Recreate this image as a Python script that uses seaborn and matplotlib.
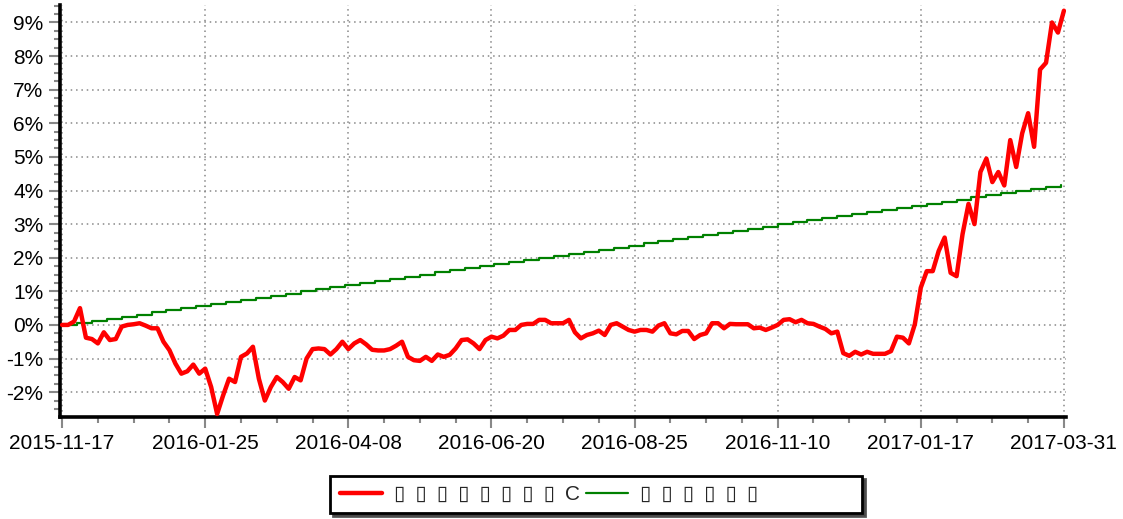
import numpy as np
import matplotlib
matplotlib.use("Agg")
import matplotlib.pyplot as plt
from matplotlib.ticker import FixedLocator, MultipleLocator, FuncFormatter
import seaborn as sns

# trading-day labels shown on the x axis (one every 48 trading days)
tick_days = [0, 48, 96, 144, 192, 240, 288, 336]
tick_labels = ['2015-11-17', '2016-01-25', '2016-04-08', '2016-06-20',
               '2016-08-25', '2016-11-10', '2017-01-17', '2017-03-31']

# fund cumulative return (%), read every 2 trading days
fund_ret = [
    0.00, 0.00, 0.10, 0.50, -0.38, -0.42, -0.55, -0.22, -0.45, -0.42,
    -0.05, 0.00, 0.02, 0.05, -0.02, -0.10, -0.10, -0.50, -0.75, -1.15,
    -1.45, -1.38, -1.18, -1.45, -1.30, -1.85, -2.65, -2.10, -1.60, -1.70,
    -0.95, -0.85, -0.65, -1.60, -2.25, -1.85, -1.55, -1.70, -1.90, -1.55,
    -1.65, -1.00, -0.72, -0.70, -0.72, -0.88, -0.72, -0.50, -0.72, -0.55,
    -0.45, -0.58, -0.74, -0.76, -0.76, -0.72, -0.62, -0.50, -0.95, -1.05,
    -1.07, -0.95, -1.07, -0.88, -0.95, -0.89, -0.70, -0.45, -0.43, -0.55,
    -0.72, -0.45, -0.35, -0.40, -0.32, -0.15, -0.15, 0.00, 0.03, 0.03,
    0.15, 0.15, 0.05, 0.05, 0.05, 0.15, -0.22, -0.40, -0.30, -0.25,
    -0.17, -0.30, 0.00, 0.05, -0.05, -0.15, -0.20, -0.15, -0.15, -0.20,
    -0.02, 0.05, -0.25, -0.28, -0.18, -0.18, -0.42, -0.30, -0.25, 0.05,
    0.05, -0.10, 0.03, 0.02, 0.02, 0.02, -0.10, -0.08, -0.15, -0.08,
    0.00, 0.15, 0.17, 0.08, 0.15, 0.05, 0.03, -0.05, -0.12, -0.25,
    -0.20, -0.84, -0.92, -0.80, -0.88, -0.80, -0.86, -0.86, -0.86, -0.78,
    -0.35, -0.38, -0.55, 0.02, 1.11, 1.60, 1.60, 2.20, 2.60, 1.55,
    1.45, 2.70, 3.60, 3.00, 4.55, 4.95, 4.25, 4.55, 4.15, 5.50,
    4.70, 5.70, 6.30, 5.30, 7.60, 7.80, 9.00, 8.70, 9.35,
]

# benchmark cumulative return (%), read once per week (every 5 trading days)
bench_ret = [
    0.00, 0.06, 0.12, 0.19, 0.25, 0.31, 0.37, 0.44, 0.50, 0.56,
    0.62, 0.68, 0.75, 0.81, 0.87, 0.93, 1.00, 1.06, 1.12, 1.18,
    1.24, 1.31, 1.37, 1.43, 1.49, 1.56, 1.62, 1.68, 1.74, 1.80,
    1.87, 1.93, 1.99, 2.05, 2.12, 2.18, 2.24, 2.30, 2.36, 2.43,
    2.49, 2.55, 2.61, 2.68, 2.74, 2.80, 2.86, 2.92, 2.99, 3.05,
    3.11, 3.17, 3.24, 3.30, 3.36, 3.42, 3.48, 3.55, 3.61, 3.67,
    3.73, 3.80, 3.86, 3.92, 3.98, 4.04, 4.11, 4.17,
]

# legend names: the source shows missing-glyph boxes, kept as boxes here
gap = ' \u2009'
fund_label = gap.join(['▯'] * 8 + ['C'])
bench_label = gap.join(['▯'] * 6) + '\u2003' * 4 + '\u2002'

fund_days = np.arange(len(fund_ret)) * 2
bench_days = np.arange(len(bench_ret)) * 5

sns.set_style("white")
plt.rcParams['font.family'] = ['Liberation Sans', 'DejaVu Sans']

fig = plt.figure(figsize=(11.23, 5.19), dpi=100)
ax = fig.add_axes([60 / 1123, 102 / 519, 1006 / 1123, 412 / 519])

sns.lineplot(x=bench_days, y=bench_ret, ax=ax, color='#008000', linewidth=1.6,
             drawstyle='steps-post', label=bench_label, zorder=3)
sns.lineplot(x=fund_days, y=fund_ret, ax=ax, color='#ff0000', linewidth=3.2,
             label=fund_label, zorder=4)

ax.set_xlim(-0.7, 336.7)
ax.set_ylim(-2.74, 9.52)

ax.xaxis.set_major_locator(FixedLocator(tick_days))
ax.set_xticklabels(tick_labels)
ax.xaxis.set_minor_locator(MultipleLocator(12))
ax.yaxis.set_major_locator(MultipleLocator(1))
ax.yaxis.set_minor_locator(MultipleLocator(0.25))
ax.yaxis.set_major_formatter(FuncFormatter(lambda v, p: f"{v:.0f}%"))

ax.grid(True, which='major', linestyle=(0, (1, 2.5)), color='#888888', linewidth=1.1)
ax.set_axisbelow(True)

for side in ['top', 'right']:
    ax.spines[side].set_visible(False)
for side in ['left', 'bottom']:
    ax.spines[side].set_color('black')
    ax.spines[side].set_linewidth(2.6)

ax.tick_params(which='major', direction='out', length=8, width=1.5, color='#888888',
               labelsize=15, labelcolor='black', pad=4)
ax.tick_params(which='minor', direction='out', length=4, width=1.5, color='#888888')
ax.tick_params(axis='x', which='both', bottom=True)
ax.tick_params(axis='y', which='both', left=True)

handles, labels = ax.get_legend_handles_labels()
order = [labels.index(fund_label), labels.index(bench_label)]
leg = ax.legend([handles[i] for i in order], [labels[i] for i in order],
                loc='center', bbox_to_anchor=(0.531, 0.047),
                bbox_transform=fig.transFigure, ncol=2, fontsize=15,
                frameon=True, fancybox=False, shadow={'color': '#444444', 'alpha': 0.9},
                edgecolor='black', handlelength=2.0, handletextpad=0.6,
                columnspacing=0.3, borderpad=0.45)
leg.get_frame().set_linewidth(2.0)

fig.savefig('out.png', dpi=100)
